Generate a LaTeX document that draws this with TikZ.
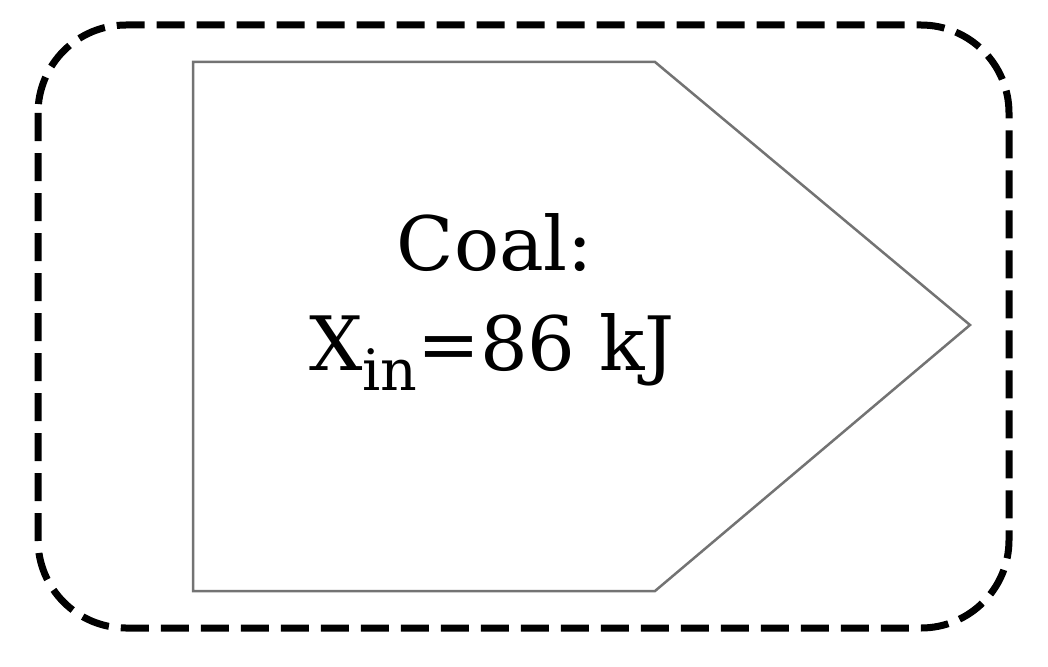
\documentclass[tikz,border=0pt]{standalone}
\usepackage{fontspec}
\setmainfont{DejaVu Serif}
\begin{document}
\begin{tikzpicture}[x=1pt,y=-1pt,
  outerbox/.style={draw=black, line width=7pt, dash pattern=on 28pt off 12pt, rounded corners=88pt},
  arrowshape/.style={draw=black!55, line width=2.5pt, line join=miter},
  bigtext/.style={font=\fontsize{75}{90}\selectfont, inner sep=0pt, anchor=base}]
\useasboundingbox (0,0) rectangle (1048,666);
\draw[outerbox] (38,25) rectangle (1009,628);
\coordinate (p1) at (193,62);
\coordinate (p2) at (655,62);
\coordinate (p3) at (970,325);
\coordinate (p4) at (655,591);
\coordinate (p5) at (193,591);
\draw[arrowshape] (p1) -- (p2) -- (p3) -- (p4) -- (p5) -- cycle;
\node[bigtext] (coal) at (495,270) {Coal:};
\node[bigtext] (xin) at (492,370) {X\raisebox{-20pt}{\fontsize{57}{64}\selectfont in}=86 kJ};
\end{tikzpicture}
\end{document}
